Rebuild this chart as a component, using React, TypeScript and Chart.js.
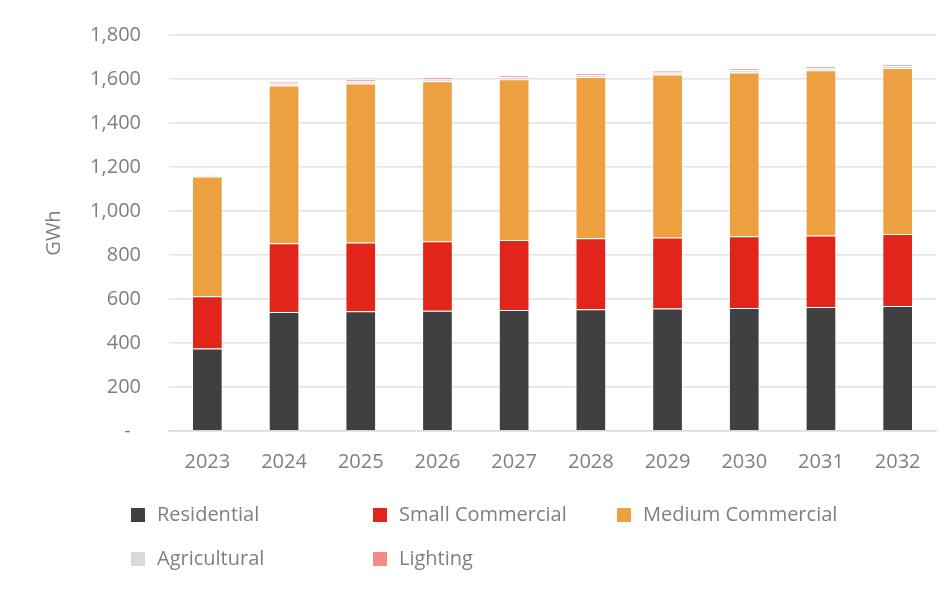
import React, { useEffect, useRef } from "react";
import { Chart, registerables } from "chart.js";

Chart.register(...registerables);

const years = ["2023", "2024", "2025", "2026", "2027", "2028", "2029", "2030", "2031", "2032"];
const residential = [375, 541, 544, 547, 550, 553, 557, 559, 564, 568];
const smallCommercial = [237, 312, 313, 315, 318, 323, 323, 326, 325, 327];
const mediumCommercial = [545, 718, 723, 728, 731, 733, 741, 745, 751, 755];
const agricultural = [5, 9, 10, 9, 9, 9, 9, 10, 9, 9];
const lighting = [4, 8, 8, 9, 9, 8, 8, 8, 9, 8];
const seriesNames = ["Residential", "Small Commercial", "Medium Commercial", "Agricultural", "Lighting"];
const seriesColors = ["#404040", "#E1251B", "#ECA040", "#D9D9D9", "#F28B84"];
const yTitle = "GWh";

const FONT = "'Open Sans', sans-serif";
const TEXT = "#7f7f7f";

// legend placement (canvas coords): [boxX, centerY]
const legendPos: [number, number][] = [
  [123, 507],
  [365, 507],
  [609, 507],
  [123, 551],
  [365, 551],
];

const legendPlugin = {
  id: "gridLegend",
  afterDraw(chart: any) {
    const ctx = chart.ctx;
    ctx.save();
    ctx.font = `20px ${FONT}`;
    ctx.textBaseline = "middle";
    ctx.textAlign = "left";
    chart.data.datasets.forEach((ds: any, i: number) => {
      const [x, y] = legendPos[i];
      ctx.fillStyle = ds.backgroundColor;
      ctx.fillRect(x, y - 7, 14, 14);
      ctx.fillStyle = TEXT;
      ctx.fillText(ds.label, x + 26, y);
    });
    ctx.restore();
  },
};

export default function App() {
  const ref = useRef<HTMLCanvasElement>(null);
  useEffect(() => {
    if (!ref.current) return;
    const series = [residential, smallCommercial, mediumCommercial, agricultural, lighting];
    const chart = new Chart(ref.current, {
      type: "bar",
      data: {
        labels: years,
        datasets: series.map((d, i) => ({
          label: seriesNames[i],
          data: d,
          backgroundColor: seriesColors[i],
          borderColor: "rgba(255,255,255,0.35)",
          borderWidth: 1,
          categoryPercentage: 1,
          barPercentage: 0.4,
        })),
      },
      options: {
        responsive: false,
        animation: false,
        layout: { padding: { top: 27, right: 16, left: 0, bottom: 0 } },
        plugins: { legend: { display: false }, tooltip: { enabled: false } },
        scales: {
          x: {
            stacked: true,
            grid: { display: false, drawTicks: false },
            border: { color: "#dcdcdc", width: 1.5 },
            ticks: { color: TEXT, font: { family: FONT, size: 20 }, padding: 19 },
            afterFit: (axis: any) => {
              axis.height = 161;
              axis.paddingLeft = 0;
              axis.paddingRight = 0;
            },
          },
          y: {
            stacked: true,
            min: 0,
            max: 1800,
            grid: { color: "#e2e2e2", lineWidth: 1.5, drawTicks: false },
            border: { display: false },
            ticks: {
              stepSize: 200,
              color: TEXT,
              font: { family: FONT, size: 20 },
              padding: 28,
              callback: (v: any) => (v === 0 ? "-  " : Number(v).toLocaleString("en-US")),
            },
            title: {
              display: true,
              text: yTitle,
              color: TEXT,
              font: { family: FONT, size: 20 },
              padding: { top: 34, bottom: 0 },
            },
            afterFit: (axis: any) => {
              axis.width = 161;
              axis.paddingTop = 0;
              axis.paddingBottom = 0;
            },
          },
        },
      },
      plugins: [legendPlugin],
    });
    return () => chart.destroy();
  }, []);
  return (
    <div style={{ position: "relative", width: 944, height: 584 }}>
      <div
        style={{
          position: "absolute",
          left: -2,
          top: -2,
          width: 946,
          height: 586,
          borderLeft: "2px solid #d9d9d9",
          borderTop: "2px solid #d9d9d9",
          boxSizing: "border-box",
        }}
      />
      <canvas ref={ref} width={944} height={584} style={{ position: "relative", display: "block" }} />
    </div>
  );
}
